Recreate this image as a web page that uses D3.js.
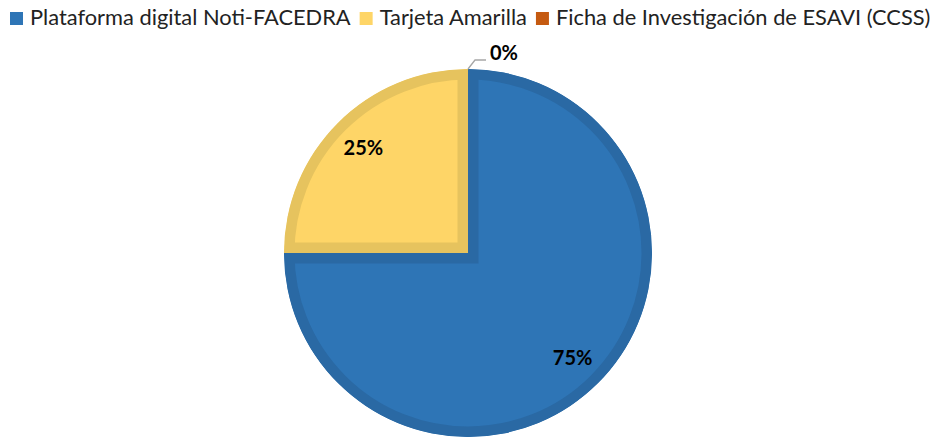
<!doctype html>
<html>
<head>
<meta charset="utf-8">
<style>
  body { margin: 0; background: #fff; }
  svg { display: block; }
  .legend text { font-family: Lato, "Open Sans", sans-serif; fill: #222; }
  .lbl { font-family: Lato, "Open Sans", sans-serif; font-weight: bold; fill: #000; }
</style>
<script src="https://d3js.org/d3.v7.min.js"></script>
</head>
<body>
<svg width="937" height="437"></svg>
<script>
var categories = ["Plataforma digital Noti-FACEDRA", "Tarjeta Amarilla", "Ficha de Investigación de ESAVI (CCSS)"];
var values = [75, 25, 0];
var labels = ["75%", "25%", "0%"];

var fills = ["#2E75B6", "#FED567", "#C55A11"];
var edges = ["#2A69A4", "#E6C35E", "#A84C0F"];

var svg = d3.select("svg");
var cx = 468, cy = 253, r = 184;

var data = categories.map(function(c, i) { return { name: c, value: values[i], label: labels[i], i: i }; });

var pie = d3.pie().sort(null).value(function(d) { return d.value; });
var arc = d3.arc().innerRadius(0).outerRadius(r);
var labelArc = d3.arc().innerRadius(148).outerRadius(148);

var g = svg.append("g").attr("transform", "translate(" + cx + "," + cy + ")");
var defs = svg.append("defs");
var arcs = pie(data);

arcs.forEach(function(a, k) {
    if (a.endAngle - a.startAngle <= 0) return;
    defs.append("clipPath").attr("id", "clip" + k)
        .append("path").attr("d", arc(a));
    g.append("path")
        .attr("d", arc(a))
        .attr("fill", fills[a.data.i])
        .attr("stroke", edges[a.data.i])
        .attr("stroke-width", 21)
        .attr("stroke-linejoin", "miter")
        .attr("clip-path", "url(#clip" + k + ")");
});

// labels
arcs.forEach(function(a) {
    if (a.data.value > 0) {
        var p = labelArc.centroid(a);
        g.append("text").attr("class", "lbl")
            .attr("x", p[0]).attr("y", p[1])
            .attr("text-anchor", "middle").attr("dy", "0.35em")
            .attr("font-size", 20)
            .text(a.data.label);
    } else {
        var p0 = d3.arc().innerRadius(r).outerRadius(r).centroid(a);
        var p1 = [p0[0] + 7, p0[1] - 9];
        var p2 = [p1[0] + 11, p1[1]];
        g.append("polyline")
            .attr("points", [p0, p1, p2].map(function(p) { return p.join(","); }).join(" "))
            .attr("fill", "none").attr("stroke", "#a6a6a6").attr("stroke-width", 1.3);
        g.append("text").attr("class", "lbl")
            .attr("x", p2[0] + 4).attr("y", p2[1] - 7)
            .attr("dy", "0.35em")
            .attr("font-size", 20)
            .text(a.data.label);
    }
});

// legend
var leg = svg.append("g").attr("class", "legend");
var sq = 13, gapA = 7, gapB = 9, fontSize = 20;
var items = leg.selectAll("g").data(data).enter().append("g");
items.append("rect").attr("width", sq).attr("height", sq).attr("fill", function(d) { return fills[d.i]; });
var texts = items.append("text").attr("font-size", fontSize).text(function(d) { return d.name; });

// fit the legend to the same overall width as the original
var target = 921;
function totalWidth() {
    var w = 0;
    texts.each(function() { w += this.getComputedTextLength(); });
    return w + data.length * (sq + gapA) + (data.length - 1) * gapB;
}
var fixed = data.length * (sq + gapA) + (data.length - 1) * gapB;
fontSize = fontSize * (target - fixed) / (totalWidth() - fixed);
texts.attr("font-size", fontSize);

var x = 10;
items.each(function() {
    var it = d3.select(this);
    it.select("rect").attr("x", x).attr("y", 12);
    it.select("text").attr("x", x + sq + gapA).attr("y", 25);
    x += sq + gapA + it.select("text").node().getComputedTextLength() + gapB;
});
</script>
</body>
</html>
